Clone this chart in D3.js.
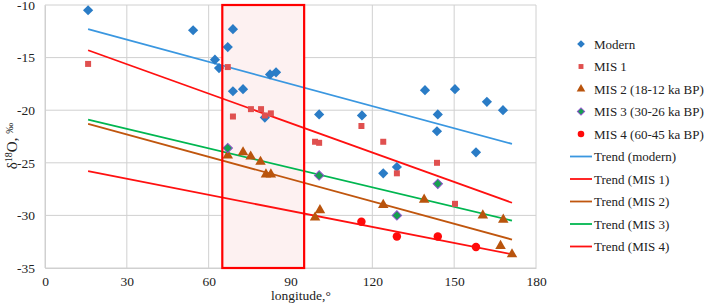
<!DOCTYPE html>
<html><head><meta charset="utf-8">
<script src="https://cdn.jsdelivr.net/npm/d3@7"></script>
<style>body{margin:0;background:#fff}</style>
</head><body><svg id="c" width="706" height="305"></svg>
<script>
const xTicks=[0,30,60,90,120,150,180];
const yTicks=[-10,-15,-20,-25,-30,-35];
const modern=[[15.8,-10.5],[54.3,-12.4],[62.3,-15.2],[63.8,-16.0],[67,-14.0],[68.9,-12.3],[68.9,-18.2],[72.6,-18.0],[82.5,-16.6],[84.7,-16.4],[80.6,-20.7],[100.5,-20.4],[116.2,-20.5],[124,-26.0],[129,-25.4],[139.3,-18.1],[150.3,-18.0],[144,-20.4],[143.7,-22.0],[158,-24.0],[162,-19.2],[167.9,-20.0]];
const mis1=[[15.8,-15.6],[67,-15.9],[68.9,-20.6],[75.5,-19.9],[79.2,-19.9],[82.8,-20.3],[80.6,-20.5],[99,-23.0],[100.5,-23.1],[116,-21.5],[124,-23.0],[129,-26.0],[143.7,-25.0],[150.3,-28.9]];
const mis2=[[67,-24.3],[72.6,-24.0],[75.4,-24.4],[79,-24.9],[81,-26.1],[82.8,-26.1],[99,-30.2],[100.8,-29.5],[124,-29.0],[139,-28.5],[160.5,-30.0],[168,-30.4],[167,-32.9],[171.2,-33.7]];
const mis3=[[67,-23.6],[100.5,-26.2],[129,-30.0],[144,-27.0]];
const mis4=[[116,-30.6],[129,-32.0],[144,-32.0],[158,-33.0]];
const trendX=[15.8,171.2];
const trendModern=[-12.3,-23.2];
const trendMis1=[-14.3,-28.8];
const trendMis2=[-21.3,-32.3];
const trendMis3=[-20.9,-30.5];
const trendMis4=[-25.8,-33.7];
const band=[65,95];

const FONT="Liberation Serif";
const svg=d3.select("#c");
const x=d3.scaleLinear().domain([0,180]).range([45,536]);
const y=d3.scaleLinear().domain([-35,-10]).range([268,5]);
const grid="#d0d0d0";
svg.append("g").selectAll("line").data(xTicks).join("line")
 .attr("x1",d=>x(d)).attr("x2",d=>x(d)).attr("y1",y(-10)).attr("y2",y(-35)).attr("stroke",grid).attr("stroke-width",1);
svg.append("g").selectAll("line").data(yTicks).join("line")
 .attr("y1",d=>y(d)).attr("y2",d=>y(d)).attr("x1",x(0)).attr("x2",x(180)).attr("stroke",grid).attr("stroke-width",1);
const ax=svg.append("g").attr("transform",`translate(0,${y(-35)})`).call(d3.axisBottom(x).tickValues(xTicks).tickSize(0).tickPadding(8));
const ay=svg.append("g").attr("transform",`translate(${x(0)},0)`).call(d3.axisLeft(y).tickValues(yTicks).tickSize(0).tickPadding(10).tickFormat(d=>d));
[ax,ay].forEach(a=>{a.select(".domain").attr("stroke",grid);a.selectAll("text").style("font-family",FONT).style("font-size","13.5px").attr("fill","#222");});
svg.append("rect").attr("x",x(band[0])).attr("y",y(-10)).attr("width",x(band[1])-x(band[0])).attr("height",y(-35)-y(-10))
 .attr("fill","#fdf1f1");
const trends=[[trendModern,"#3a97e0"],[trendMis1,"#ff1010"],[trendMis2,"#c0560e"],[trendMis3,"#00b650"],[trendMis4,"#ff1010"]];
trends.forEach(([t,c])=>{svg.append("line").attr("x1",x(trendX[0])).attr("x2",x(trendX[1])).attr("y1",y(t[0])).attr("y2",y(t[1])).attr("stroke",c).attr("stroke-width",1.8);});
const sym=(type,size)=>d3.symbol().type(type).size(size)();
function pts(data,path,fill,stroke,rot){
 svg.append("g").selectAll("path").data(data).join("path").attr("d",path)
  .attr("transform",d=>`translate(${x(d[0])},${y(d[1])})${rot?" rotate(45)":""}`)
  .attr("fill",fill).attr("stroke",stroke||"none").attr("stroke-width",stroke?1:0);
}
pts(modern,sym(d3.symbolSquare,52),"#2a7cc6",null,true);
pts(mis1,sym(d3.symbolSquare,36),"#e0504f");
pts(mis2,sym(d3.symbolTriangle,48),"#b9540d");
pts(mis3,sym(d3.symbolSquare,44),"#16a050","#8a52c8",true);
pts(mis4,sym(d3.symbolCircle,56),"#ff0a0a");
svg.append("rect").attr("x",x(band[0])).attr("y",y(-10)).attr("width",x(band[1])-x(band[0])).attr("height",y(-35)-y(-10))
 .attr("fill","none").attr("stroke","#ff0000").attr("stroke-width",2.2);
svg.append("text").attr("x",301).attr("y",300).attr("text-anchor","middle").style("font-family",FONT).style("font-size","13.5px").attr("fill","#222").text("longitude,°");
const yl=svg.append("text").attr("transform","translate(17,146) rotate(-90)").attr("text-anchor","middle").style("font-family",FONT).style("font-size","15px").attr("fill","#222");
yl.append("tspan").text("δ");
yl.append("tspan").attr("dy",-5).style("font-size","10px").text("18");
yl.append("tspan").attr("dy",5).text("O, ");
yl.append("tspan").attr("dy",-4).style("font-size","11px").text("‰");
const legItems=[
 {t:"Modern",k:"m",p:sym(d3.symbolSquare,30),f:"#2a7cc6",r:true},
 {t:"MIS 1",k:"m",p:sym(d3.symbolSquare,24),f:"#e0504f"},
 {t:"MIS 2 (18-12 ka BP)",k:"m",p:sym(d3.symbolTriangle,32),f:"#b9540d"},
 {t:"MIS 3 (30-26 ka BP)",k:"m",p:sym(d3.symbolSquare,26),f:"#16a050",s:"#8a52c8",r:true},
 {t:"MIS 4 (60-45 ka BP)",k:"m",p:sym(d3.symbolCircle,34),f:"#ff0a0a"},
 {t:"Trend (modern)",k:"l",c:"#3a97e0"},
 {t:"Trend (MIS 1)",k:"l",c:"#ff1010"},
 {t:"Trend (MIS 2)",k:"l",c:"#c0560e"},
 {t:"Trend (MIS 3)",k:"l",c:"#00b650"},
 {t:"Trend (MIS 4)",k:"l",c:"#ff1010"}];
const lg=svg.append("g");
legItems.forEach((d,i)=>{
 const yy=44+i*22.5;
 if(d.k==="m") lg.append("path").attr("d",d.p).attr("transform",`translate(581,${yy})${d.r?" rotate(45)":""}`).attr("fill",d.f).attr("stroke",d.s||"none").attr("stroke-width",d.s?1:0);
 else lg.append("line").attr("x1",570).attr("x2",592).attr("y1",yy).attr("y2",yy).attr("stroke",d.c).attr("stroke-width",1.8);
 lg.append("text").attr("x",594).attr("y",yy+4.5).style("font-family",FONT).style("font-size","13px").attr("fill","#222").text(d.t);
});
</script></body></html>
